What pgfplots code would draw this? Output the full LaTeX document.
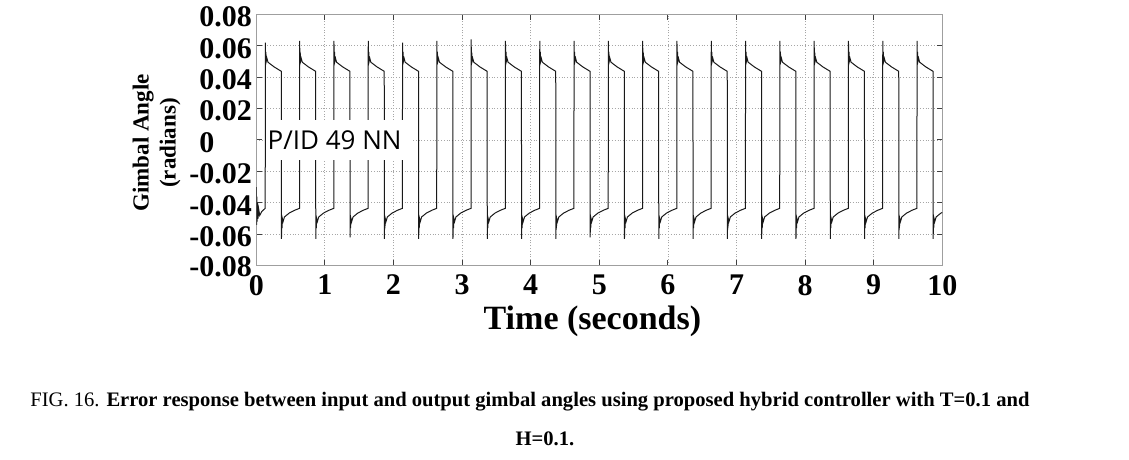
\documentclass[border=0pt]{standalone}
\usepackage{fontspec}
\setmainfont{Liberation Serif}
\newfontfamily\opensans{Open Sans}
\usepackage{pgfplots}
\pgfplotsset{compat=1.18}

\begin{document}
\begin{tikzpicture}
% page = 1129x460 px at 0.5pt per px, axis box at the origin
\useasboundingbox (-128.15pt,-97.15pt) rectangle (436.35pt,132.85pt);
\begin{axis}[
  at={(0pt,0pt)}, anchor=south west,
  scale only axis, width=343pt, height=125.7pt,
  xmin=0, xmax=10, ymin=-0.08, ymax=0.08,
  scaled ticks=false,
  xtick={0,1,2,3,4,5,6,7,8,9,10},
  ytick={-0.08,-0.06,-0.04,-0.02,0,0.02,0.04,0.06,0.08},
  yticklabels={\raisebox{1.3pt}{-0.08},-0.06,-0.04,-0.02,0\phantom{.00},0.02,0.04,0.06,0.08},
  tick label style={font=\bfseries\fontsize{15}{15}\selectfont,
    /pgf/number format/assume math mode=true},
  yticklabel style={inner xsep=2pt, yshift=-1.3pt},
  xticklabel style={inner ysep=4.5pt},
  major tick length=2.8pt,
  tick style={black!75, line width=0.5pt},
  axis line style={gray!75, line width=0.6pt},
  grid=major,
  grid style={densely dotted, gray!70, line width=0.4pt},
  xlabel={Time (seconds)},
  xlabel style={at={(axis description cs:0.49,0)}, anchor=base, yshift=-32pt,
    font=\bfseries\fontsize{17}{17}\selectfont},
  ylabel={Gimbal Angle\\(radians)},
  ylabel style={at={(axis description cs:-0.1455,0.488)}, anchor=center,
    align=center, font=\bfseries\fontsize{11.5}{13.5}\selectfont},
]
\addplot[black!90, line width=0.5pt, no markers] coordinates {
(0.000,-0.030) (0.004,-0.054) (0.008,-0.036) (0.013,-0.052) (0.019,-0.040) (0.026,-0.050) (0.035,-0.044) (0.050,-0.048) (0.080,-0.0455)
(0.130,-0.0435) (0.132,0.062) (0.136,0.050) (0.140,0.056) (0.145,0.050) (0.155,0.052) (0.170,0.0495) (0.260,0.0465) (0.365,0.0437) (0.367,-0.063) (0.371,-0.050) (0.375,-0.056) (0.380,-0.050) (0.390,-0.052) (0.410,-0.049) (0.480,-0.0465) (0.560,-0.0447)
(0.630,-0.0435) (0.632,0.063) (0.636,0.050) (0.640,0.056) (0.645,0.050) (0.655,0.052) (0.670,0.0495) (0.760,0.0465) (0.865,0.0437) (0.867,-0.063) (0.871,-0.050) (0.875,-0.056) (0.880,-0.050) (0.890,-0.052) (0.910,-0.049) (0.980,-0.0465) (1.060,-0.0447)
(1.130,-0.0435) (1.132,0.063) (1.136,0.050) (1.140,0.056) (1.145,0.050) (1.155,0.052) (1.170,0.0495) (1.260,0.0465) (1.365,0.0437) (1.367,-0.062) (1.371,-0.050) (1.375,-0.056) (1.380,-0.050) (1.390,-0.052) (1.410,-0.049) (1.480,-0.0465) (1.560,-0.0447)
(1.630,-0.0435) (1.632,0.063) (1.636,0.050) (1.640,0.056) (1.645,0.050) (1.655,0.052) (1.670,0.0495) (1.760,0.0465) (1.865,0.0437) (1.867,-0.063) (1.871,-0.050) (1.875,-0.056) (1.880,-0.050) (1.890,-0.052) (1.910,-0.049) (1.980,-0.0465) (2.060,-0.0447)
(2.130,-0.0435) (2.132,0.062) (2.136,0.050) (2.140,0.056) (2.145,0.050) (2.155,0.052) (2.170,0.0495) (2.260,0.0465) (2.365,0.0437) (2.367,-0.063) (2.371,-0.050) (2.375,-0.056) (2.380,-0.050) (2.390,-0.052) (2.410,-0.049) (2.480,-0.0465) (2.560,-0.0447)
(2.630,-0.0435) (2.632,0.063) (2.636,0.050) (2.640,0.056) (2.645,0.050) (2.655,0.052) (2.670,0.0495) (2.760,0.0465) (2.865,0.0437) (2.867,-0.063) (2.871,-0.050) (2.875,-0.056) (2.880,-0.050) (2.890,-0.052) (2.910,-0.049) (2.980,-0.0465) (3.060,-0.0447)
(3.130,-0.0435) (3.132,0.064) (3.136,0.050) (3.140,0.056) (3.145,0.050) (3.155,0.052) (3.170,0.0495) (3.260,0.0465) (3.365,0.0437) (3.367,-0.063) (3.371,-0.050) (3.375,-0.056) (3.380,-0.050) (3.390,-0.052) (3.410,-0.049) (3.480,-0.0465) (3.560,-0.0447)
(3.630,-0.0435) (3.632,0.063) (3.636,0.050) (3.640,0.056) (3.645,0.050) (3.655,0.052) (3.670,0.0495) (3.760,0.0465) (3.865,0.0437) (3.867,-0.063) (3.871,-0.050) (3.875,-0.056) (3.880,-0.050) (3.890,-0.052) (3.910,-0.049) (3.980,-0.0465) (4.060,-0.0447)
(4.130,-0.0435) (4.132,0.063) (4.136,0.050) (4.140,0.056) (4.145,0.050) (4.155,0.052) (4.170,0.0495) (4.260,0.0465) (4.365,0.0437) (4.367,-0.063) (4.371,-0.050) (4.375,-0.056) (4.380,-0.050) (4.390,-0.052) (4.410,-0.049) (4.480,-0.0465) (4.560,-0.0447)
(4.630,-0.0435) (4.632,0.063) (4.636,0.050) (4.640,0.056) (4.645,0.050) (4.655,0.052) (4.670,0.0495) (4.760,0.0465) (4.865,0.0437) (4.867,-0.062) (4.871,-0.050) (4.875,-0.056) (4.880,-0.050) (4.890,-0.052) (4.910,-0.049) (4.980,-0.0465) (5.060,-0.0447)
(5.130,-0.0435) (5.132,0.063) (5.136,0.050) (5.140,0.056) (5.145,0.050) (5.155,0.052) (5.170,0.0495) (5.260,0.0465) (5.365,0.0437) (5.367,-0.063) (5.371,-0.050) (5.375,-0.056) (5.380,-0.050) (5.390,-0.052) (5.410,-0.049) (5.480,-0.0465) (5.560,-0.0447)
(5.630,-0.0435) (5.632,0.063) (5.636,0.050) (5.640,0.056) (5.645,0.050) (5.655,0.052) (5.670,0.0495) (5.760,0.0465) (5.865,0.0437) (5.867,-0.063) (5.871,-0.050) (5.875,-0.056) (5.880,-0.050) (5.890,-0.052) (5.910,-0.049) (5.980,-0.0465) (6.060,-0.0447)
(6.130,-0.0435) (6.132,0.063) (6.136,0.050) (6.140,0.056) (6.145,0.050) (6.155,0.052) (6.170,0.0495) (6.260,0.0465) (6.365,0.0437) (6.367,-0.063) (6.371,-0.050) (6.375,-0.056) (6.380,-0.050) (6.390,-0.052) (6.410,-0.049) (6.480,-0.0465) (6.560,-0.0447)
(6.630,-0.0435) (6.632,0.063) (6.636,0.050) (6.640,0.056) (6.645,0.050) (6.655,0.052) (6.670,0.0495) (6.760,0.0465) (6.865,0.0437) (6.867,-0.063) (6.871,-0.050) (6.875,-0.056) (6.880,-0.050) (6.890,-0.052) (6.910,-0.049) (6.980,-0.0465) (7.060,-0.0447)
(7.130,-0.0435) (7.132,0.063) (7.136,0.050) (7.140,0.056) (7.145,0.050) (7.155,0.052) (7.170,0.0495) (7.260,0.0465) (7.365,0.0437) (7.367,-0.063) (7.371,-0.050) (7.375,-0.056) (7.380,-0.050) (7.390,-0.052) (7.410,-0.049) (7.480,-0.0465) (7.560,-0.0447)
(7.630,-0.0435) (7.632,0.063) (7.636,0.050) (7.640,0.056) (7.645,0.050) (7.655,0.052) (7.670,0.0495) (7.760,0.0465) (7.865,0.0437) (7.867,-0.063) (7.871,-0.050) (7.875,-0.056) (7.880,-0.050) (7.890,-0.052) (7.910,-0.049) (7.980,-0.0465) (8.060,-0.0447)
(8.130,-0.0435) (8.132,0.063) (8.136,0.050) (8.140,0.056) (8.145,0.050) (8.155,0.052) (8.170,0.0495) (8.260,0.0465) (8.365,0.0437) (8.367,-0.063) (8.371,-0.050) (8.375,-0.056) (8.380,-0.050) (8.390,-0.052) (8.410,-0.049) (8.480,-0.0465) (8.560,-0.0447)
(8.630,-0.0435) (8.632,0.063) (8.636,0.050) (8.640,0.056) (8.645,0.050) (8.655,0.052) (8.670,0.0495) (8.760,0.0465) (8.865,0.0437) (8.867,-0.063) (8.871,-0.050) (8.875,-0.056) (8.880,-0.050) (8.890,-0.052) (8.910,-0.049) (8.980,-0.0465) (9.060,-0.0447)
(9.130,-0.0435) (9.132,0.063) (9.136,0.050) (9.140,0.056) (9.145,0.050) (9.155,0.052) (9.170,0.0495) (9.260,0.0465) (9.365,0.0437) (9.367,-0.063) (9.371,-0.050) (9.375,-0.056) (9.380,-0.050) (9.390,-0.052) (9.410,-0.049) (9.480,-0.0465) (9.560,-0.0447)
(9.630,-0.0435) (9.632,0.063) (9.636,0.050) (9.640,0.056) (9.645,0.050) (9.655,0.052) (9.670,0.0495) (9.760,0.0465) (9.865,0.0437) (9.867,-0.063) (9.871,-0.050) (9.875,-0.056) (9.880,-0.050) (9.890,-0.052) (9.910,-0.049) (9.980,-0.0465) (10.000,-0.0462)
};
% white box behind the label, as in the reference
\fill[white] (axis cs:0.15,-0.0127) rectangle (axis cs:2.25,0.0127);
\node[anchor=base west, inner sep=0pt, font=\opensans\fontsize{13}{13}\selectfont]
  at (axis cs:0.16,-0.0063) {P/ID 49 NN};
\end{axis}
% caption
\node[anchor=base west, inner sep=0pt, font=\fontsize{10.3}{10.3}\selectfont]
  at (-113.15pt,-70.5pt) {FIG. 16. \textbf{Error response between input and output gimbal angles using proposed hybrid controller with T=0.1 and}};
\node[anchor=base, inner sep=0pt, font=\bfseries\fontsize{10.3}{10.3}\selectfont]
  at (144.35pt,-89.65pt) {H=0.1.};
\end{tikzpicture}
\end{document}
